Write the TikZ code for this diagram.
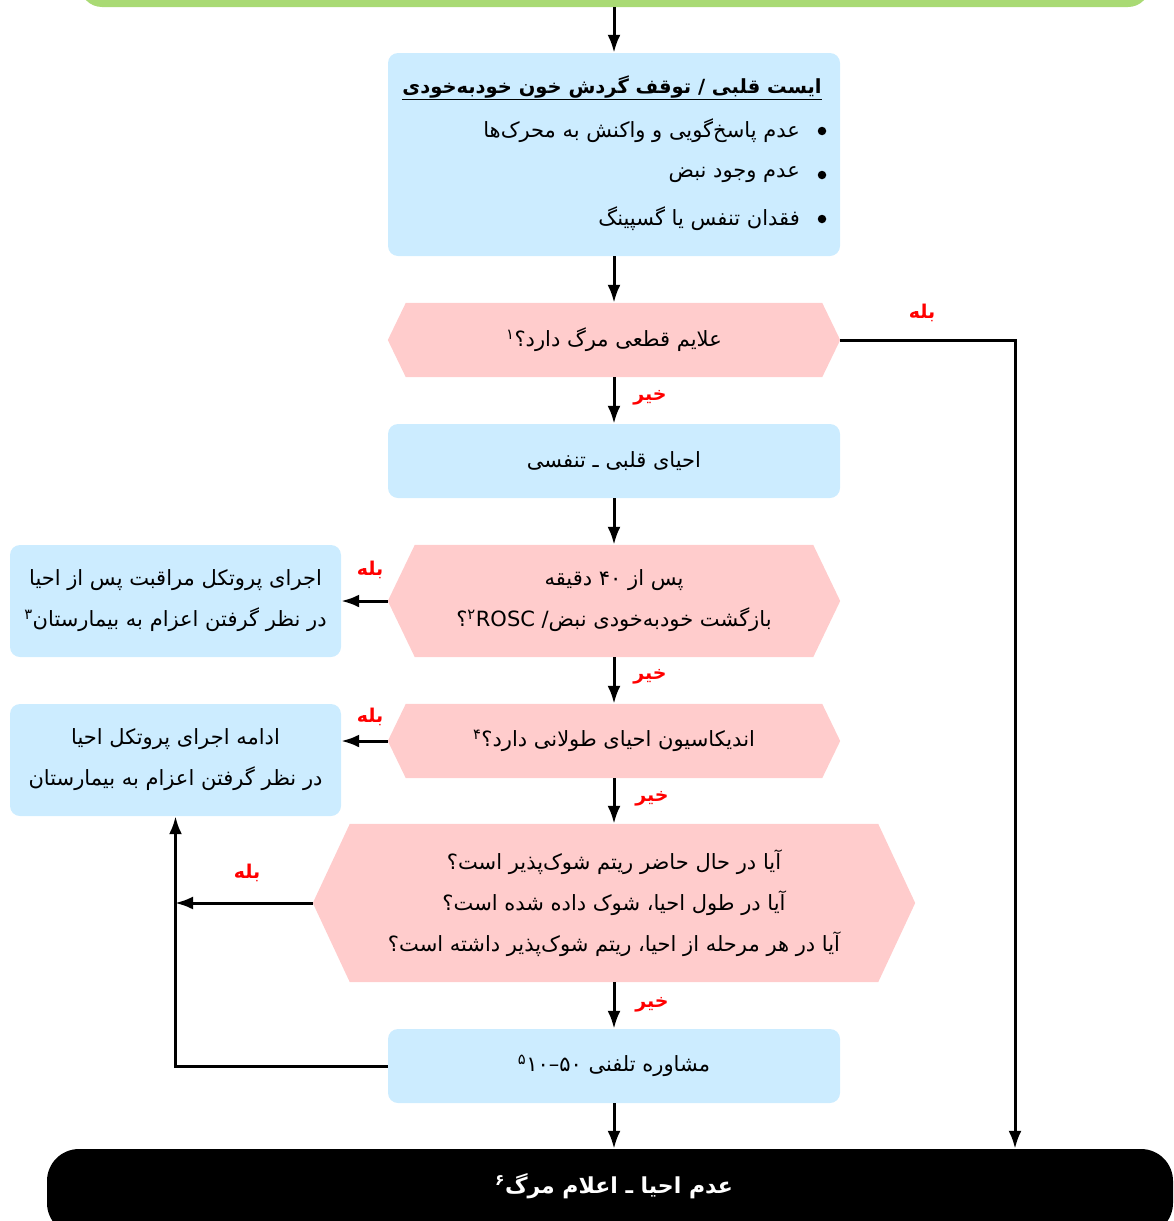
\documentclass[tikz,border=0pt]{standalone}
\usepackage{fontspec}
\newfontfamily\fa[Script=Arabic]{DejaVu Sans}
\TeXXeTstate=1
\usetikzlibrary{arrows.meta,backgrounds}
\newcommand{\rl}[1]{\beginR#1\endR}
\definecolor{bluef}{RGB}{204,236,255}
\definecolor{pinkf}{RGB}{255,204,204}
\definecolor{greenf}{RGB}{169,218,116}
\newcommand{\hexfill}[2]{%
  \fill[pinkf] (#1.west) -- ([xshift=#2]#1.north west) -- ([xshift=-#2]#1.north east)
    -- (#1.east) -- ([xshift=-#2]#1.south east) -- ([xshift=#2]#1.south west) -- cycle;}
\begin{document}
\begin{tikzpicture}[x=1pt,y=-1pt,
  every node/.style={font=\fa\fontsize{21}{41}\selectfont, inner sep=0pt},
  bluebox/.style={fill=bluef, rounded corners=10pt, align=center},
  hexnode/.style={align=center},
  dot/.style={circle, fill=black, minimum size=8.5pt},
  arr/.style={line width=3pt, -{Latex[length=18pt,width=13pt]}},
  yes/.style={text=red, font=\fa\bfseries\fontsize{19}{20}\selectfont},
]
\useasboundingbox (0,0) rectangle (1173,1221);
\clip (0,0) rectangle (1173,1221);

% start (green, cut at top)
\node[fill=greenf, rounded corners=22pt, minimum width=1070pt, minimum height=80pt] (start) at (615,-33) {};

% box 1
\node[bluebox, minimum width=452pt, minimum height=203pt] (b1) at (614,154.5) {};
\node[font=\fa\bfseries\fontsize{19.5}{22}\selectfont] (t1) at (612,88) {\underline{\rl{ایست قلبی / توقف گردش خون خودبه‌خودی}}};
\node[dot] (d1) at (822,131) {};
\node[dot] (d2) at (822,175) {};
\node[dot] (d3) at (822,219) {};
\node[anchor=east] (l1) at (800,131) {\rl{عدم پاسخ‌گویی و واکنش به محرک‌ها}};
\node[anchor=east] (l2) at (800,175) {\rl{عدم وجود نبض}};
\node[anchor=east] (l3) at (800,219) {\rl{فقدان تنفس یا گسپینگ}};

% hexagon 1
\node[hexnode, minimum width=452pt, minimum height=74pt] (h1) at (614,340) {\rl{علایم قطعی مرگ دارد؟\textsuperscript{۱}}};
% box 2
\node[bluebox, minimum width=452pt, minimum height=74pt] (b2) at (614,461) {\rl{احیای قلبی ـ تنفسی}};
% hexagon 2
\node[hexnode, minimum width=452pt, minimum height=112pt] (h2) at (614,601) {\rl{پس از ۴۰ دقیقه}\\\rl{بازگشت خودبه‌خودی نبض/ ROSC\textsuperscript{۲}؟}};
% box A
\node[bluebox, minimum width=331pt, minimum height=112pt] (bA) at (175.5,601) {\rl{اجرای پروتکل مراقبت پس از احیا}\\\rl{در نظر گرفتن اعزام به بیمارستان\textsuperscript{۳}}};
% hexagon 3
\node[hexnode, minimum width=452pt, minimum height=74pt] (h3) at (614,741) {\rl{اندیکاسیون احیای طولانی دارد؟\textsuperscript{۴}}};
% box B
\node[bluebox, minimum width=331pt, minimum height=112pt] (bB) at (175.5,760) {\rl{ادامه اجرای پروتکل احیا}\\\rl{در نظر گرفتن اعزام به بیمارستان}};
% hexagon 4
\node[hexnode, minimum width=602pt, minimum height=158pt] (h4) at (614,903) {\rl{آیا در حال حاضر ریتم شوک‌پذیر است؟}\\\rl{آیا در طول احیا، شوک داده شده است؟}\\\rl{آیا در هر مرحله از احیا، ریتم شوک‌پذیر داشته است؟}};
% box C
\node[bluebox, minimum width=452pt, minimum height=74pt] (bC) at (614,1066) {\rl{مشاوره تلفنی \beginL ۵۰–۱۰\endL\textsuperscript{۵}}};
% end
\node[fill=black, rounded corners=32pt, minimum width=1126pt, minimum height=86pt] (end) at (610,1192) {};
\node[text=white, font=\fa\bfseries\fontsize{22}{24}\selectfont] (endt) at (614,1186) {\rl{عدم احیا ـ اعلام مرگ\textsuperscript{۶}}};

\begin{pgfonlayer}{background}
  \hexfill{h1}{18pt}
  \hexfill{h2}{27pt}
  \hexfill{h3}{18pt}
  \hexfill{h4}{37pt}
\end{pgfonlayer}

\coordinate (rt) at (1015,340);
\coordinate (lv) at (175,903);

% main spine
\draw[arr] (b1.north |- start.south) -- (b1.north);
\draw[arr] (b1.south) -- (h1.north);
\draw[arr] (h1.south) -- (b2.north);
\draw[arr] (b2.south) -- (h2.north);
\draw[arr] (h2.south) -- (h3.north);
\draw[arr] (h3.south) -- (h4.north);
\draw[arr] (h4.south) -- (bC.north);
\draw[arr] (bC.south) -- (bC.south |- end.north);

% side branches
\draw[arr] (h1.east) -- (rt) -- (rt |- end.north);
\draw[arr] (h2.west) -- (h2.west -| bA.east);
\draw[arr] (h3.west) -- (h3.west -| bB.east);
\draw[arr] (h4.west) -- (lv);
\draw[arr] (bC.west) -- (bC.west -| bB.south) -- (bB.south);

% labels
\node[yes] (y1) at (922,313) {\rl{بله}};
\node[yes] (y2) at (370,570) {\rl{بله}};
\node[yes] (y3) at (370,717) {\rl{بله}};
\node[yes] (y4) at (247,873) {\rl{بله}};
\node[yes] (n1) at (650,398) {\rl{خیر}};
\node[yes] (n2) at (650,677) {\rl{خیر}};
\node[yes] (n3) at (652,799) {\rl{خیر}};
\node[yes] (n4) at (652,1005) {\rl{خیر}};
\end{tikzpicture}
\end{document}
